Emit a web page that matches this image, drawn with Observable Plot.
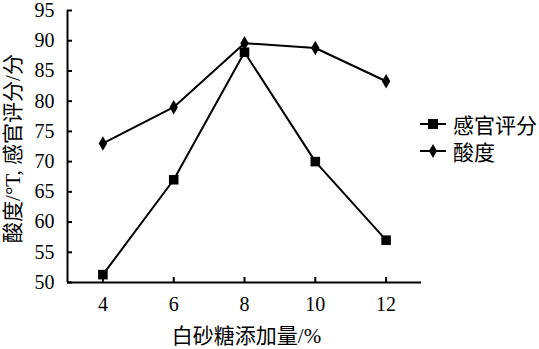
<!DOCTYPE html>
<html><head><meta charset="utf-8">
<script src="https://cdn.jsdelivr.net/npm/d3@7"></script>
<script src="https://cdn.jsdelivr.net/npm/@observablehq/plot@0.6"></script>
<style>
body{margin:0;background:#fff;}
#wrap{position:relative;width:539px;height:349px;}
.legend{position:absolute;left:420px;top:110px;font-family:"Liberation Serif","Noto Sans CJK SC",serif;font-size:21px;color:#000;}
.row{display:flex;align-items:center;height:27px;white-space:nowrap;}
.row svg{margin-right:7px;}
</style></head>
<body><div id="wrap"></div>
<script>
const sugar = [4, 6, 8, 10, 12];
const sensory = [51.3, 67.0, 88.1, 70.0, 57.0];
const acidity = [73.0, 79.0, 89.6, 88.8, 83.3];
const xTicks = [4, 6, 8, 10, 12];
const yTicks = [50, 55, 60, 65, 70, 75, 80, 85, 90, 95];
const seriesNames = ["感官评分", "酸度"];
const xLabel = "白砂糖添加量/%";
const yLabel = "酸度/°T, 感官评分/分";

const sensoryData = sugar.map((x, i) => ({x, y: sensory[i]}));
const acidityData = sugar.map((x, i) => ({x, y: acidity[i]}));
const font = "'Liberation Serif','Noto Sans CJK SC',serif";

const chart = Plot.plot({
  width: 539, height: 349,
  marginLeft: 67, marginRight: 118, marginTop: 10, marginBottom: 67,
  style: {fontFamily: font, fontSize: "20px", background: "#fff", color: "#000"},
  x: {domain: [3, 13]},
  y: {domain: [50, 95]},
  marks: [
    Plot.axisY({ticks: yTicks, tickSize: 5, dx: 5, tickPadding: 13, label: null, fontSize: 20, strokeWidth: 2}),
    Plot.axisX({ticks: xTicks, tickSize: 5, dy: -5, tickPadding: 14, label: null, fontSize: 20, strokeWidth: 2}),
    Plot.ruleX([3], {strokeWidth: 2}),
    Plot.ruleY([50], {strokeWidth: 2}),
    Plot.line(acidityData, {x: "x", y: "y", stroke: "#000", strokeWidth: 2}),
    Plot.line(sensoryData, {x: "x", y: "y", stroke: "#000", strokeWidth: 2}),
    Plot.dot(acidityData, {x: "x", y: "y", symbol: "diamond", r: 4.4, fill: "#000"}),
    Plot.dot(sensoryData, {x: "x", y: "y", symbol: "square", r: 5.4, fill: "#000"}),
    Plot.text([xLabel], {text: d => d, frameAnchor: "bottom", textAnchor: "middle", lineAnchor: "middle", dy: 54, dx: 2, fontSize: 21}),
    Plot.text([yLabel], {text: d => d, frameAnchor: "left", textAnchor: "middle", lineAnchor: "middle", rotate: -90, dx: -54, dy: 2, fontSize: 21})
  ]
});
const wrap = document.getElementById("wrap");
wrap.appendChild(chart);

const legend = document.createElement("div");
legend.className = "legend";
const symbols = [
  '<rect x="8" y="2" width="10" height="10" fill="#000"/>',
  '<path d="M13,0 L17,7 L13,14 L9,7 Z" fill="#000"/>'
];
seriesNames.forEach((name, i) => {
  const row = document.createElement("div");
  row.className = "row";
  row.innerHTML = `<svg width="26" height="14"><line x1="0" y1="7" x2="26" y2="7" stroke="#000" stroke-width="2"/>${symbols[i]}</svg><span>${name}</span>`;
  legend.appendChild(row);
});
wrap.appendChild(legend);
</script></body></html>
